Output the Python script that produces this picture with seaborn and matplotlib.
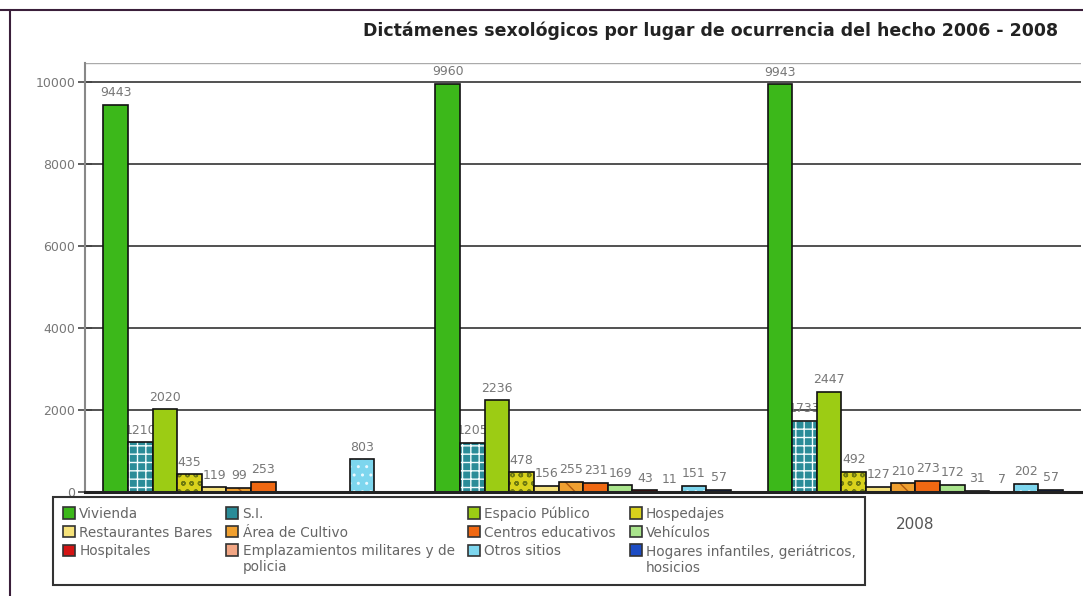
import numpy as np
import pandas as pd
import matplotlib
matplotlib.use("Agg")
import matplotlib.pyplot as plt
import matplotlib.colors as mcolors
from matplotlib.patches import Patch
from matplotlib.lines import Line2D
import seaborn as sns

# ---- data ----
years = ["2006", "2007", "2008"]
lugares = [
    "Vivienda", "S.I.", "Espacio Público", "Hospedajes",
    "Restaurantes Bares", "Área de Cultivo", "Centros educativos", "Vehículos",
    "Hospitales", "Emplazamientos militares y de\npolicia", "Otros sitios",
    "Hogares infantiles, geriátricos,\nhosicios",
]
v_vivienda = [9443, 9960, 9943]
v_si = [1210, 1205, 1733]
v_espacio = [2020, 2236, 2447]
v_hospedajes = [435, 478, 492]
v_restaurantes = [119, 156, 127]
v_cultivo = [99, 255, 210]
v_centros = [253, 231, 273]
v_vehiculos = [np.nan, 169, 172]
v_hospitales = [np.nan, 43, 31]
v_emplazamientos = [np.nan, 11, 7]
v_otros = [803, 151, 202]
v_hogares = [np.nan, 57, 57]

series = [v_vivienda, v_si, v_espacio, v_hospedajes, v_restaurantes, v_cultivo,
          v_centros, v_vehiculos, v_hospitales, v_emplazamientos, v_otros, v_hogares]

colors = ["#3cb81a", "#2a8c98", "#9ccc14", "#d9d21c", "#f6e27a", "#f0a030",
          "#f06812", "#a9e48c", "#d41414", "#f2a684", "#7dd6ee", "#1c4cc4"]
hatches = [None, "++", None, "oo", None, "\\\\", None, None, None, None, "..", None]
hatch_colors = [None, "#f4fcfd", None, "#6f7a10", None, "#b05a10", None, None, None, None, "#e8f8ff", None]

rows = []
for name, vals in zip(lugares, series):
    for y, v in zip(years, vals):
        rows.append({"year": y, "lugar": name, "value": v})
df = pd.DataFrame(rows)

sns.set_theme(style="white")
plt.rcParams["font.family"] = ["DejaVu Sans"]

fig = plt.figure(figsize=(10.83, 5.96), dpi=100)
ax = fig.add_axes([0.0785, 0.1745, 0.92, 0.72])

sns.barplot(data=df, x="year", y="value", hue="lugar", hue_order=lugares,
            order=years, palette=colors, saturation=1, width=0.89, gap=0,
            errorbar=None, edgecolor="#111111", linewidth=1.2, legend=False, ax=ax)

for i, c in enumerate(ax.containers):
    for p in c.patches:
        p.set_zorder(2)
        if hatches[i]:
            p.set_hatch(hatches[i])
            p._hatch_color = mcolors.to_rgba(hatch_colors[i])
    labels = []
    for p in c.patches:
        h = p.get_height()
        labels.append("%d" % round(h) if np.isfinite(h) and h > 0 else "")
    texts = ax.bar_label(c, labels=labels, padding=4, fontsize=9, color="#777777")
    for t in texts:
        t.set_zorder(1.5)

ax.set_xlim(-0.5, 2.5)
ax.set_ylim(0, 10470)
ax.set_yticks([0, 2000, 4000, 6000, 8000, 10000])
ax.set_yticklabels(["0", "2000", "4000", "6000", "8000", "10000"])
ax.yaxis.grid(True, color="#333333", linewidth=1.2)
ax.set_axisbelow(True)
ax.tick_params(axis="y", direction="inout", length=10, width=1.2, color="#444444",
               labelsize=9, labelcolor="#777777", pad=2, left=True)
ax.tick_params(axis="x", length=0, labelsize=11, labelcolor="#555555", pad=18)
ax.set_xlabel("")
ax.set_ylabel("")
for s in ["top", "right"]:
    ax.spines[s].set_visible(False)
ax.spines["left"].set_color("#888888")
ax.spines["left"].set_linewidth(1.5)
ax.spines["bottom"].set_color("#222222")
ax.spines["bottom"].set_linewidth(2.2)
ax.axhline(10470, color="#aaaaaa", lw=1)

fig.text(0.977, 0.948, "Dictámenes sexológicos por lugar de ocurrencia del hecho 2006 - 2008",
         ha="right", va="center", fontsize=12.5, fontweight="bold", color="#222222")

# legend laid out row by row (matplotlib fills columns first)
ncol = 4
nrow = 3
order = [r * ncol + c for c in range(ncol) for r in range(nrow)]
handles = [Patch(facecolor=colors[i], edgecolor="#333333", linewidth=1.2) for i in order]
labels_leg = [lugares[i] for i in order]
leg = fig.legend(handles=handles, labels=labels_leg, ncol=ncol, loc="upper left",
                 bbox_to_anchor=(0.043, 0.178), frameon=True, fontsize=9.8,
                 handlelength=0.9, handleheight=0.9, handletextpad=0.3,
                 columnspacing=1.0, labelspacing=0.35, borderpad=0.7,
                 labelcolor="#666666", fancybox=False, edgecolor="#333333",
                 framealpha=1, facecolor="white")
leg.get_frame().set_linewidth(1.5)
leg.set_zorder(10)
# align handles of wrapped labels with their first line
for col in leg._legend_handle_box.get_children():
    for item in col.get_children():
        kids = item.get_children()
        txt = [k for k in kids if hasattr(k, "get_text")]
        if txt and "\n" in txt[0].get_text():
            item.align = "top"

# outer frame lines
fig.add_artist(Line2D([0, 1], [1 - 10 / 596, 1 - 10 / 596], color="#3a1f3a", lw=1.5))
fig.add_artist(Line2D([10 / 1083, 10 / 1083], [0, 1 - 10 / 596], color="#3a1f3a", lw=1.5))

fig.savefig("out.png", dpi=100)
